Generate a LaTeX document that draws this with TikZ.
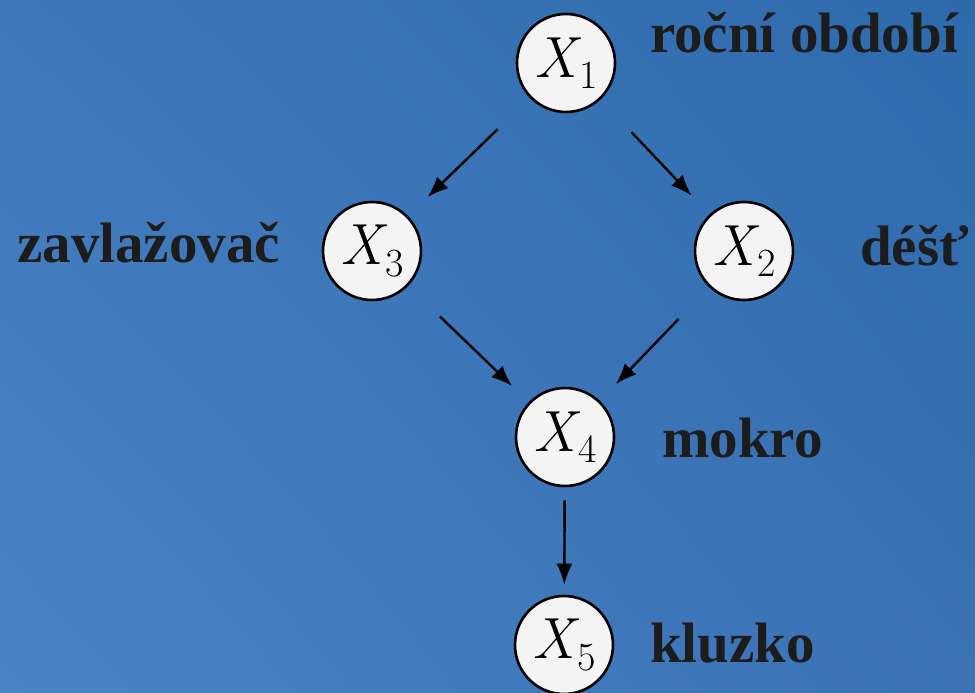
\documentclass[tikz,border=0pt]{standalone}
\usepackage{fontspec}
\setmainfont{Liberation Serif}
\newfontfamily\lmr{Latin Modern Roman}
\usetikzlibrary{arrows.meta,shadings}
\definecolor{bgTL}{HTML}{3F78BA}
\definecolor{bgTR}{HTML}{2D6AAC}
\definecolor{bgBL}{HTML}{4A84C5}
\definecolor{bgBR}{HTML}{3A72B5}
\definecolor{txt}{HTML}{1C1C1C}
\definecolor{nodefill}{HTML}{F4F4F4}
\newcommand{\xvar}[1]{{\lmr\itshape X}\kern0.04em\raisebox{-0.2em}{\lmr\fontsize{40}{42}\selectfont #1}}
\tikzset{
  var/.style={circle, draw=black, line width=2.6pt, fill=nodefill, minimum size=98pt, inner sep=0pt,
    font=\fontsize{58}{60}\selectfont},
  lab/.style={anchor=base west, inner sep=0pt, text=txt, font=\fontsize{57}{60}\selectfont\bfseries},
  edge/.style={line width=2.4pt, draw=black, -{Latex[length=21pt,width=16pt]}},
}
\begin{document}
\begin{tikzpicture}[x=1pt,y=-1pt]
\shade[upper left=bgTL, upper right=bgTR, lower left=bgBL, lower right=bgBR] (0,0) rectangle (975,693);
\useasboundingbox (0,0) rectangle (975,693);
\node[var] (x1) at (566,63) {\xvar{1}};
\node[var] (x3) at (372,251) {\xvar{3}};
\node[var] (x2) at (744,251) {\xvar{2}};
\node[var] (x4) at (565,437) {\xvar{4}};
\node[var] (x5) at (564,645) {\xvar{5}};
\node[lab] (l1) at (650,53) {roční období};
\node[lab] (l3) at (17,262) {zavlažovač};
\node[lab] (l2) at (860,265) {déšť};
\node[lab] (l4) at (662,457) {mokro};
\node[lab] (l5) at (650,662) {kluzko};
\draw[edge, shorten <=45pt, shorten >=27pt] (x1) -- (x3);
\draw[edge, shorten <=45pt, shorten >=26pt] (x1) -- (x2);
\draw[edge, shorten <=44pt, shorten >=23pt] (x3) -- (x4);
\draw[edge, shorten <=44pt, shorten >=23pt] (x2) -- (x4);
\draw[edge, shorten <=13pt, shorten >=10pt] (x4) -- (x5);
\end{tikzpicture}
\end{document}
